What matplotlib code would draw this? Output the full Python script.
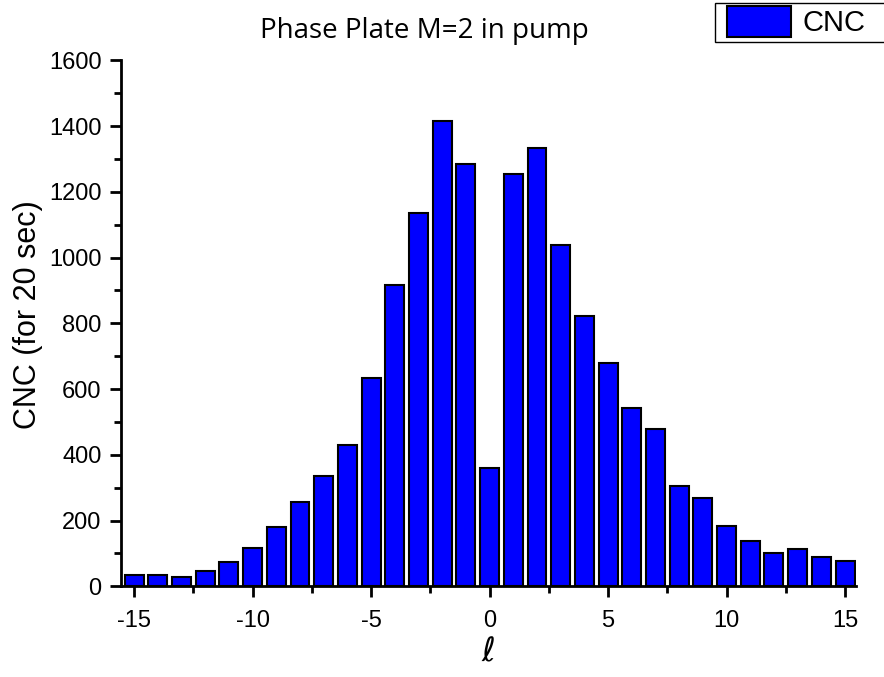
import numpy as np
import matplotlib
matplotlib.use("Agg")
import matplotlib.pyplot as plt
from matplotlib.ticker import MultipleLocator
from matplotlib.patches import Rectangle

plt.rcParams['font.family'] = ['Liberation Sans', 'DejaVu Sans']
plt.rcParams['axes.unicode_minus'] = False

ell = list(range(-15, 16))
cnc = [33, 34, 28, 48, 74, 115, 179, 256, 335, 430, 635,
       916, 1134, 1414, 1285, 359, 1255, 1334, 1037, 822,
       678, 541, 479, 304, 268, 182, 139, 101, 113, 90, 76]

W, H = 884, 677
fig = plt.figure(figsize=(8.84, 6.77), dpi=100)
ax = fig.add_axes([0.137, 0.134, 0.831, 0.777])

ax.bar(ell, cnc, width=0.8, color='#0000ff', edgecolor='black', linewidth=1.5, label='CNC')

ax.set_xlim(-15.55, 15.45)
ax.set_ylim(0, 1600)
ax.xaxis.set_major_locator(MultipleLocator(5))
ax.xaxis.set_minor_locator(MultipleLocator(2.5))
ax.yaxis.set_major_locator(MultipleLocator(200))
ax.yaxis.set_minor_locator(MultipleLocator(100))

for s in ['top', 'right']:
    ax.spines[s].set_visible(False)
for s in ['left', 'bottom']:
    ax.spines[s].set_linewidth(2)

ax.tick_params(which='major', direction='out', length=8, width=2, labelsize=17, pad=6)
ax.tick_params(axis='x', which='major', pad=9)
ax.tick_params(which='minor', direction='out', length=5, width=2)

# title sits left of the axes centre in the original
fig.text(424 / W, 1 - 31 / H, 'Phase Plate M=2 in pump', fontsize=20, family='Open Sans',
         ha='center', va='center')
ax.set_xlabel(r'$\ell$', fontsize=24, labelpad=4)
ax.set_ylabel('CNC (for 20 sec)', fontsize=22)
ax.yaxis.set_label_coords(-0.107, 0.517)

# legend box, cut by the right edge of the image
fig.patches.append(Rectangle((715 / W, 1 - 42 / H), 180 / W, 39 / H, transform=fig.transFigure,
                             facecolor='white', edgecolor='black', linewidth=1, zorder=-1))
leg = ax.legend(loc='upper left', bbox_to_anchor=(727 / W, 1 - 6 / H), bbox_transform=fig.transFigure,
                fontsize=21, frameon=False, borderpad=0, handlelength=2.2, handleheight=1.25,
                handletextpad=0.4, borderaxespad=0)

fig.savefig('out.png', dpi=100)
